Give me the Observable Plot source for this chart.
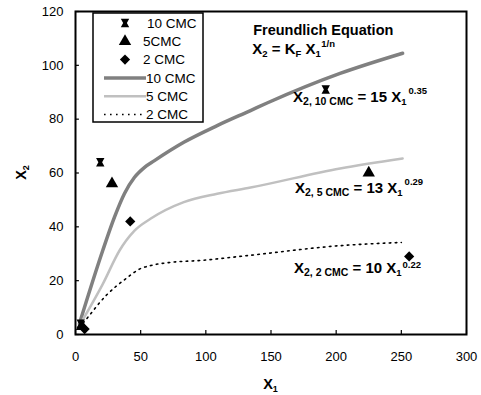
<!DOCTYPE html>
<html><head><meta charset="utf-8">
<script src="https://cdn.jsdelivr.net/npm/d3@7"></script>
<script src="https://cdn.jsdelivr.net/npm/@observablehq/plot@0.6"></script>
<style>
html,body{margin:0;padding:0;background:#fff;}
#chart svg{display:block;font-family:"Liberation Sans",Arial,sans-serif;}
</style></head><body><div id="chart"></div>
<script>
// ---- data ----
const xTicks = [0, 50, 100, 150, 200, 250, 300];
const yTicks = [0, 20, 40, 60, 80, 100, 120];
const pointNames = ["10 CMC", "5CMC", "2 CMC"];
const lineNames = ["10 CMC", "5 CMC", "2 CMC"];

const exp10X = [4, 19, 192];
const exp10Y = [4, 64, 91];
const exp5X = [5, 28, 225];
const exp5Y = [3, 56, 60];
const exp2X = [7, 42, 256];
const exp2Y = [2, 42, 29];

const fit10X = [3, 20.9, 29.9, 37.6, 45.3, 53, 60.6, 83.1, 108.7, 134.3, 147, 203, 251];
const fit10Y = [4, 31.2, 43.6, 52.4, 58.4, 62.1, 64.6, 71.4, 77.6, 83.2, 86, 97, 104.5];
const fit5X = [3, 21, 33.8, 38.9, 45.3, 57.5, 83.1, 108.7, 134.3, 203, 251];
const fit5Y = [3.3, 18.8, 31.2, 34.9, 38.6, 43, 49.2, 52.3, 54.6, 61.7, 65.4];
const fit2X = [3, 9.5, 23.5, 38, 50, 57.5, 73, 95.9, 131.7, 203, 250];
const fit2Y = [2.5, 6.4, 14.5, 20.5, 24.5, 25.6, 26.8, 27.5, 29.3, 33, 34.2];

const zip = (xs, ys) => xs.map((x, i) => ({x, y: ys[i]}));

// custom "bowtie" marker for 10 CMC
const bowtie = {
  draw(ctx, size) {
    const r = Math.sqrt(size / Math.PI);
    ctx.moveTo(-r, -r); ctx.lineTo(r, -r); ctx.lineTo(0.45 * r, 0);
    ctx.lineTo(r, r); ctx.lineTo(-r, r); ctx.lineTo(-0.45 * r, 0); ctx.closePath();
  }
};
const symbols = [bowtie, d3.symbolTriangle, d3.symbolDiamond2];
const lineStyles = [
  {stroke: "#808080", strokeWidth: 3.5, strokeDasharray: null},
  {stroke: "#c0c0c0", strokeWidth: 2.5, strokeDasharray: null},
  {stroke: "#000000", strokeWidth: 1.6, strokeDasharray: "1.6,4.4"}
];

const plot = Plot.plot({
  width: 481, height: 395,
  marginLeft: 75, marginRight: 15, marginTop: 11, marginBottom: 61,
  style: {fontFamily: "Liberation Sans, Arial, sans-serif", fontSize: "13px", color: "#000"},
  x: {domain: [0, 300], ticks: xTicks, label: null},
  y: {domain: [0, 120], ticks: yTicks, label: null},
  marks: [
    Plot.line(zip(fit10X, fit10Y), {x: "x", y: "y", stroke: lineStyles[0].stroke, strokeWidth: lineStyles[0].strokeWidth, curve: "monotone-x"}),
    Plot.line(zip(fit5X, fit5Y), {x: "x", y: "y", stroke: lineStyles[1].stroke, strokeWidth: lineStyles[1].strokeWidth, curve: "monotone-x"}),
    Plot.line(zip(fit2X, fit2Y), {x: "x", y: "y", stroke: lineStyles[2].stroke, strokeWidth: lineStyles[2].strokeWidth, strokeDasharray: lineStyles[2].strokeDasharray, curve: "monotone-x"}),
    Plot.dot(zip(exp10X, exp10Y), {x: "x", y: "y", symbol: bowtie, r: 4.2, fill: "#000", stroke: "none"}),
    Plot.dot(zip(exp5X, exp5Y), {x: "x", y: "y", symbol: "triangle", r: 4.6, fill: "#000", stroke: "none"}),
    Plot.dot(zip(exp2X, exp2Y), {x: "x", y: "y", symbol: "diamond2", r: 4.6, fill: "#000", stroke: "none"}),
    Plot.ruleX(xTicks, {x: d => d, y1: 0, y2: 1.5, stroke: "#000", strokeWidth: 1.2}),
    Plot.ruleY(yTicks, {y: d => d, x1: 0, x2: 3, stroke: "#000", strokeWidth: 1.2}),
    Plot.frame({stroke: "#000", strokeWidth: 2}),
    Plot.axisX({ticks: xTicks, tickSize: 0, tickPadding: 17, fontSize: 13, label: null}),
    Plot.axisY({ticks: yTicks, tickSize: 0, tickPadding: 12, fontSize: 13, label: null})
  ]
});
document.getElementById("chart").appendChild(plot);

const svg = d3.select(plot);
const sx = plot.scale("x").apply, sy = plot.scale("y").apply;
const F = "Liberation Sans, Arial, sans-serif";

// rich text helper: parts = [[text, size, dy, dx]]
function rich(x, y, parts, anchor = "start", bold = true) {
  const t = svg.append("text").attr("x", x).attr("y", y)
    .attr("font-family", F).attr("font-weight", bold ? "bold" : "normal")
    .attr("text-anchor", anchor).attr("fill", "#000");
  for (const [s, size, dy, dx] of parts) {
    const ts = t.append("tspan").text(s).attr("font-size", size);
    if (dy) ts.attr("dy", dy);
    if (dx) ts.attr("dx", dx);
  }
  return t;
}

// axis labels
rich((sx(0) + sx(300)) / 2, 389, [["X", 14.5], ["1", 9, 3]], "middle");
rich(0, 0, [["X", 14.5], ["2", 9, 3]], "middle")
  .attr("transform", `translate(26,${(sy(0) + sy(120)) / 2}) rotate(-90)`);

// annotations (data coordinates)
rich(sx(190.5), sy(111), [["Freundlich Equation", 14.5]], "middle");
rich(sx(136), sy(104), [["X", 15], ["2", 9.5, 3], [" = K", 15, -3], ["F", 9.5, 3], [" X", 15, -3], ["1", 9.5, 3], ["1/n", 9.5, -10, 1]]);
rich(sx(167.3), sy(86.2), [["X", 15], ["2, 10 CMC", 10.5, 3], [" = 15 X", 15, -3], ["1", 9.5, 3], ["0.35", 9.5, -11, 2]]);
rich(sx(168.8), sy(52.2), [["X", 15], ["2, 5 CMC", 10.5, 3], [" = 13 X", 15, -3], ["1", 9.5, 3], ["0.29", 9.5, -11, 2]]);
rich(sx(168), sy(22.5), [["X", 15], ["2, 2 CMC", 10.5, 3], [" = 10 X", 15, -3], ["1", 9.5, 3], ["0.22", 9.5, -8, 1]]);

// legend box
const lg = svg.append("g").attr("text-anchor", "start");
lg.append("rect").attr("x", 93).attr("y", 13).attr("width", 110).attr("height", 109)
  .attr("fill", "#fff").attr("stroke", "#000").attr("stroke-width", 1.5);
const rowY = i => 23 + i * 18.3;
pointNames.forEach((name, i) => {
  const sym = d3.symbol(symbols[i], i === 0 ? Math.PI * 4.2 * 4.2 : Math.PI * 4.6 * 4.6);
  lg.append("path").attr("d", sym()).attr("transform", `translate(125,${rowY(i)})`).attr("fill", "#000");
  lg.append("text").attr("x", i === 0 ? 147 : 143).attr("y", rowY(i)).attr("dy", "0.36em")
    .attr("text-anchor", "start").attr("font-family", F).attr("font-size", 13.5).text(name);
});
lineNames.forEach((name, j) => {
  const i = j + 3, st = lineStyles[j];
  const ln = lg.append("line").attr("x1", 104).attr("x2", 146).attr("y1", rowY(i)).attr("y2", rowY(i))
    .attr("stroke", st.stroke).attr("stroke-width", st.strokeWidth);
  if (st.strokeDasharray) ln.attr("stroke-dasharray", st.strokeDasharray);
  lg.append("text").attr("x", 146).attr("y", rowY(i)).attr("dy", "0.36em")
    .attr("text-anchor", "start").attr("font-family", F).attr("font-size", 13.5).text(name);
});
</script></body></html>
